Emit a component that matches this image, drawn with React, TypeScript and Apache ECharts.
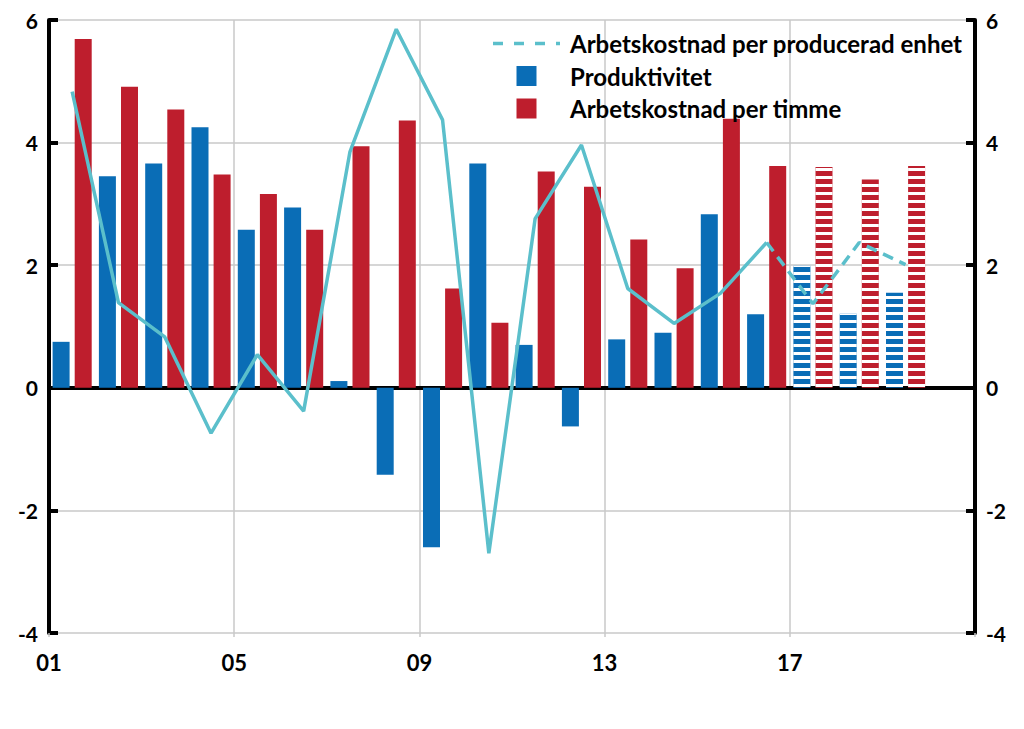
import React, { useEffect, useRef } from "react";
import * as echarts from "echarts";

const years = ["2001","2002","2003","2004","2005","2006","2007","2008","2009","2010","2011","2012","2013","2014","2015","2016","2017","2018","2019","2020"];
const xTickLabels = ["01", "05", "09", "13", "17"];
const produktivitet = [0.75, 3.45, 3.66, 4.25, 2.58, 2.94, 0.11, -1.42, -2.6, 3.66, 0.70, -0.63, 0.79, 0.90, 2.83, 1.20, 1.99, 1.21, 1.55, null];
const kostnadTimme = [5.69, 4.91, 4.54, 3.48, 3.16, 2.58, 3.94, 4.36, 1.62, 1.06, 3.53, 3.28, 2.42, 1.95, 4.39, 3.62, 3.60, 3.40, 3.62, null];
const kostnadEnhet = [4.83, 1.39, 0.83, -0.74, 0.54, -0.38, 3.85, 5.85, 4.37, -2.70, 2.76, 3.96, 1.62, 1.05, 1.54, 2.37, 1.37, 2.37, 2.01, null];
const firstForecastIndex = 16;

const BLUE = "#0a6db6";
const RED = "#be1e2d";
const TEAL = "#5bbfcb";
const FONT = "Lato";

const stripeDecal = {
  symbol: "rect",
  symbolSize: 1,
  color: "#ffffff",
  dashArrayX: [1, 0],
  dashArrayY: [2.4, 4.9],
  rotation: 0,
};

const dashedLegendIcon = "path://M0 0H10V3.5H0Z M21 0H31V3.5H21Z M42 0H52V3.5H42Z M63 0H67V3.5H63Z";
const squareLegendIcon = "path://M0 0H10V10H0Z";

function barData(values: (number | null)[]) {
  return values.map((v, i) =>
    i >= firstForecastIndex && v !== null
      ? { value: v, itemStyle: { decal: stripeDecal } }
      : v
  );
}

export default function App() {
  const ref = useRef<HTMLDivElement>(null);
  useEffect(() => {
    if (!ref.current) return;
    const chart = echarts.init(ref.current, null, { renderer: "svg" });
    const solid = kostnadEnhet.map((v, i) => (i < firstForecastIndex ? v : null));
    const dashed = kostnadEnhet.map((v, i) => (i >= firstForecastIndex - 1 ? v : null));
    const axisLabelStyle = { fontFamily: FONT, fontWeight: "bold" as const, fontSize: 21, color: "#000" };
    chart.setOption({
      animation: false,
      textStyle: { fontFamily: FONT },
      grid: { left: 49, right: 49, top: 20, bottom: 96 },
      legend: {
        left: 488,
        top: 26.5,
        orient: "vertical",
        itemWidth: 67,
        itemHeight: 20,
        itemGap: 8.5,
        symbolKeepAspect: true,
        selectedMode: false,
        textStyle: {
          fontFamily: FONT,
          fontWeight: "bold",
          fontSize: 24,
          color: "#000",
          lineHeight: 20,
          padding: [0, 0, 0, 5],
        },
        data: [
          { name: "Arbetskostnad per producerad enhet", icon: dashedLegendIcon },
          { name: "Produktivitet", icon: squareLegendIcon },
          { name: "Arbetskostnad per timme", icon: squareLegendIcon },
        ],
      },
      xAxis: [
        {
          type: "category",
          data: years,
          position: "top",
          boundaryGap: true,
          axisLine: { onZero: true, lineStyle: { color: "#000", width: 4 } },
          axisTick: { show: false },
          axisLabel: { show: false },
          splitLine: { show: false },
        },
        {
          type: "value",
          position: "bottom",
          min: 0,
          max: 20,
          interval: 4,
          axisLine: { show: false, onZero: false },
          axisTick: { show: true, length: 4, lineStyle: { color: "#c8c8c8", width: 1.5 } },
          axisLabel: {
            ...axisLabelStyle,
            fontSize: 22,
            margin: 18,
            formatter: (v: number) => xTickLabels[v / 4] ?? "",
          },
          splitLine: { show: true, lineStyle: { color: "#c8c8c8", width: 1.5 } },
        },
      ],
      yAxis: [
        {
          type: "value",
          position: "left",
          min: -4,
          max: 6,
          interval: 2,
          axisLine: { show: true, onZero: false, lineStyle: { color: "#000", width: 4 } },
          axisTick: { show: true, inside: true, length: 9, lineStyle: { color: "#000", width: 4 } },
          axisLabel: { ...axisLabelStyle, margin: 11 },
          splitLine: { show: true, lineStyle: { color: "#c8c8c8", width: 1.5 } },
        },
        {
          type: "value",
          position: "right",
          min: -4,
          max: 6,
          interval: 2,
          axisLine: { show: true, onZero: false, lineStyle: { color: "#000", width: 4 } },
          axisTick: { show: true, inside: true, length: 9, lineStyle: { color: "#000", width: 4 } },
          axisLabel: { ...axisLabelStyle, margin: 11 },
          splitLine: { show: false },
        },
      ],
      series: [
        {
          name: "Produktivitet",
          type: "bar",
          xAxisIndex: 0,
          yAxisIndex: 0,
          barWidth: 17,
          barGap: "30%",
          itemStyle: { color: BLUE },
          data: barData(produktivitet),
          z: 2,
        },
        {
          name: "Arbetskostnad per timme",
          type: "bar",
          xAxisIndex: 0,
          yAxisIndex: 0,
          barWidth: 17,
          barGap: "30%",
          itemStyle: { color: RED },
          data: barData(kostnadTimme),
          z: 2,
        },
        {
          name: "Arbetskostnad per producerad enhet (utfall)",
          type: "line",
          xAxisIndex: 0,
          yAxisIndex: 0,
          symbol: "none",
          lineStyle: { color: TEAL, width: 3.5 },
          itemStyle: { color: TEAL },
          data: solid,
          z: 5,
        },
        {
          name: "Arbetskostnad per producerad enhet",
          type: "line",
          xAxisIndex: 0,
          yAxisIndex: 0,
          symbol: "none",
          lineStyle: { color: TEAL, width: 3.5, type: [11, 7] },
          itemStyle: { color: TEAL },
          data: dashed,
          z: 5,
        },
      ],
    });
    return () => chart.dispose();
  }, []);
  return (
    <div
      ref={ref}
      style={{ position: "fixed", left: 0, top: 0, width: 1024, height: 729, background: "#fff" }}
    />
  );
}
